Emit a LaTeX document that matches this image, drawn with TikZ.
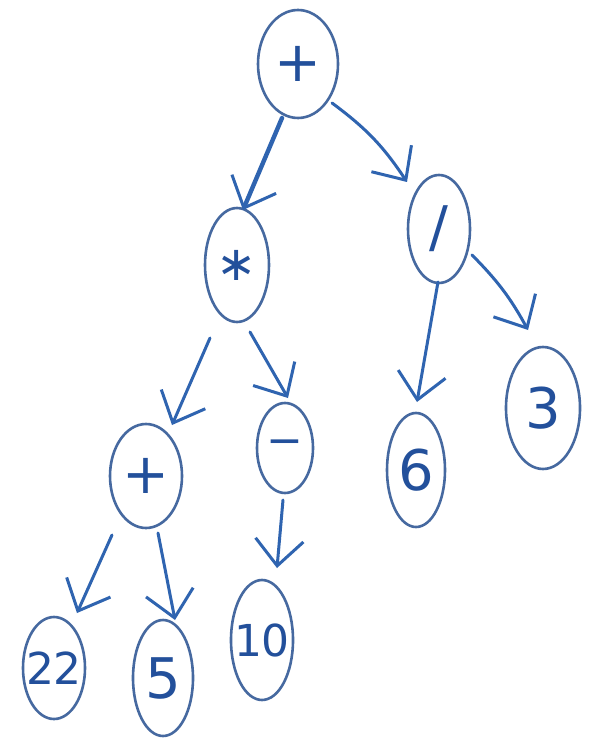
\documentclass[tikz,border=0pt]{standalone}
\usepackage{fontspec}
\setmainfont{DejaVu Sans}
\usetikzlibrary{shapes.geometric,arrows.meta}
\definecolor{ink}{RGB}{47,100,176}
\definecolor{rim}{RGB}{70,105,160}
\definecolor{txt}{RGB}{35,80,155}
\tikzset{
  tn/.style={draw=rim, line width=1.3pt, ellipse, inner sep=0pt,
    text=txt, font=\fontsize{28}{30}\selectfont},
  tight/.style={inner sep=-6pt, font=\fontsize{22}{24}\selectfont},
  arr/.style={draw=ink, line width=1.5pt, line cap=round,
    -{Straight Barb[length=13pt,width=24pt,line width=1.5pt]}},
}
\begin{document}
\begin{tikzpicture}[x=0.5pt,y=-0.5pt]
\useasboundingbox (0,0) rectangle (588,743);
\fill[white] (0,0) rectangle (588,743);
% nodes
\node[tn, minimum width=40pt, minimum height=54pt] (root)  at (298,64)  {+};
\node[tn, minimum width=32pt, minimum height=57pt, font=\fontsize{24}{26}\selectfont] (mul) at (237,265) {∗};
\node[tn, minimum width=31pt, minimum height=54pt] (div)   at (439,229) {/};
\node[tn, minimum width=36pt, minimum height=52pt] (plus)  at (146,476) {+};
\node[tn, minimum width=28pt, minimum height=45pt, font=\fontsize{22}{24}\selectfont] (minus) at (285,448) {−};
\node[tn, minimum width=29pt, minimum height=57pt] (six)   at (416,470) {6};
\node[tn, minimum width=37pt, minimum height=61pt] (three) at (543,408) {3};
\node[tn, tight, minimum width=31pt, minimum height=51pt] (n22) at (54,668)  {22};
\node[tn, minimum width=30pt, minimum height=58pt] (n5)    at (163,678) {5};
\node[tn, tight, minimum width=31pt, minimum height=60pt] (n10) at (262,640) {10};
% edges
\draw[arr, line width=2.2pt] ([shift={(-16,54)}]root.center) -- ([shift={(6,-55)}]mul.center);
\draw[arr] ([shift={(34,39)}]root.center) to[bend left=10] ([shift={(-32,-47)}]div.center);
\draw[arr] ([shift={(-1,53)}]div.center) -- ([shift={(1,-68)}]six.center);
\draw[arr] ([shift={(33,26)}]div.center) to[bend left=8] ([shift={(-15,-78)}]three.center);
\draw[arr] ([shift={(-27,73)}]mul.center) -- ([shift={(26,-51)}]plus.center);
\draw[arr] ([shift={(13,67)}]mul.center) -- ([shift={(3,-50)}]minus.center);
\draw[arr] ([shift={(-34,59)}]plus.center) -- ([shift={(23,-55)}]n22.center);
\draw[arr] ([shift={(12,57)}]plus.center) -- ([shift={(12,-58)}]n5.center);
\draw[arr] ([shift={(-2,52)}]minus.center) -- ([shift={(15,-72)}]n10.center);
\end{tikzpicture}
\end{document}
